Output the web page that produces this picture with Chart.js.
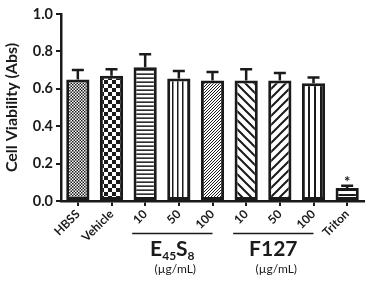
<!DOCTYPE html>
<html>
<head>
<meta charset="utf-8">
<script src="https://cdn.jsdelivr.net/npm/chart.js@4/dist/chart.umd.min.js"></script>
<style>
  html, body { margin: 0; padding: 0; background: #fff; }
  #wrap { width: 369px; height: 284px; position: relative; }
</style>
</head>
<body>
<div id="wrap"><canvas id="viabilityChart"></canvas></div>
<script>
// values
const categories = ['HBSS', 'Vehicle', '10', '50', '100', '10', '50', '100', 'Triton'];
const viability = [0.65, 0.67, 0.715, 0.655, 0.645, 0.645, 0.645, 0.63, 0.07];
const errUpper = [0.05, 0.035, 0.07, 0.04, 0.045, 0.06, 0.04, 0.03, 0.012];
const yTicks = [0.0, 0.2, 0.4, 0.6, 0.8, 1.0];

const ink = '#1a1a1a';
const font = 'Lato';

function makePattern(w, h, draw) {
    const c = document.createElement('canvas');
    c.width = w; c.height = h;
    const g = c.getContext('2d');
    g.fillStyle = '#fff';
    g.fillRect(0, 0, w, h);
    g.fillStyle = ink;
    g.strokeStyle = ink;
    draw(g, w, h);
    return g.createPattern(c, 'repeat');
}

function checker(size) {
    return makePattern(size * 2, size * 2, function (g) {
        g.fillRect(0, 0, size, size);
        g.fillRect(size, size, size, size);
    });
}

function hLines(gap, lw) {
    return makePattern(gap, gap, function (g, w) {
        g.lineWidth = lw;
        g.beginPath(); g.moveTo(0, gap / 2); g.lineTo(w, gap / 2); g.stroke();
    });
}

function vLines(gap, lw) {
    return makePattern(gap, gap, function (g, w, h) {
        g.lineWidth = lw;
        g.beginPath(); g.moveTo(gap / 2, 0); g.lineTo(gap / 2, h); g.stroke();
    });
}

function diag(gap, lw, forward) {
    return makePattern(gap, gap, function (g, s) {
        g.lineWidth = lw;
        g.beginPath();
        if (forward) {
            g.moveTo(0, s); g.lineTo(s, 0);
            g.moveTo(-1, 1); g.lineTo(1, -1);
            g.moveTo(s - 1, s + 1); g.lineTo(s + 1, s - 1);
        } else {
            g.moveTo(0, 0); g.lineTo(s, s);
            g.moveTo(-1, s - 1); g.lineTo(1, s + 1);
            g.moveTo(s - 1, -1); g.lineTo(s + 1, 1);
        }
        g.stroke();
    });
}

const fills = [
    checker(1.5),
    checker(4),
    hLines(4.3, 1.5),
    vLines(5.5, 1.5),
    diag(3, 1, true),
    diag(9, 2, false),
    diag(9, 2, true),
    vLines(6, 2),
    hLines(6, 2)
];

const errorBars = {
    id: 'errorBars',
    afterDatasetsDraw(chart) {
        const ctx = chart.ctx;
        const y = chart.scales.y;
        const meta = chart.getDatasetMeta(0);
        ctx.save();
        ctx.strokeStyle = ink;
        ctx.lineWidth = 2.5;
        meta.data.forEach(function (bar, i) {
            const top = y.getPixelForValue(viability[i]);
            const end = y.getPixelForValue(viability[i] + errUpper[i]);
            ctx.beginPath();
            ctx.moveTo(bar.x, top);
            ctx.lineTo(bar.x, end);
            ctx.moveTo(bar.x - 6, end);
            ctx.lineTo(bar.x + 6, end);
            ctx.stroke();
        });
        // significance mark on Triton
        const last = meta.data[meta.data.length - 1];
        const n = viability.length - 1;
        ctx.fillStyle = ink;
        ctx.font = 'bold 15px ' + font;
        ctx.textAlign = 'center';
        ctx.textBaseline = 'alphabetic';
        ctx.fillText('*', last.x, y.getPixelForValue(viability[n] + errUpper[n]) + 1);
        ctx.restore();
    }
};

const groupLabels = {
    id: 'groupLabels',
    afterDraw(chart) {
        const ctx = chart.ctx;
        const x = chart.scales.x;
        ctx.save();
        ctx.strokeStyle = ink;
        ctx.fillStyle = ink;
        ctx.lineWidth = 1.5;
        ctx.textBaseline = 'alphabetic';

        function group(first, lastIdx, drawTitle) {
            const l = x.getPixelForValue(first) - 13;
            const r = x.getPixelForValue(lastIdx);
            ctx.beginPath();
            ctx.moveTo(l, 233.5);
            ctx.lineTo(r, 233.5);
            ctx.stroke();
            const cx = (l + r) / 2;
            drawTitle(cx);
            ctx.font = '12px ' + font;
            ctx.textAlign = 'center';
            ctx.fillText('(\u00b5g/mL)', cx + 3, 273);
        }

        group(2, 4, function (cx) {
            const parts = [['E', 21, 0], ['45', 12, 4], ['S', 21, 0], ['8', 12, 4]];
            let total = 0;
            parts.forEach(function (p) {
                ctx.font = 'bold ' + p[1] + 'px ' + font;
                total += ctx.measureText(p[0]).width;
            });
            let px = cx - total / 2;
            ctx.textAlign = 'left';
            parts.forEach(function (p) {
                ctx.font = 'bold ' + p[1] + 'px ' + font;
                ctx.fillText(p[0], px, 256 + p[2]);
                px += ctx.measureText(p[0]).width;
            });
        });

        group(5, 7, function (cx) {
            ctx.font = 'bold 21px ' + font;
            ctx.textAlign = 'center';
            ctx.fillText('F127', cx, 256);
        });
        ctx.restore();
    }
};

new Chart(document.getElementById('viabilityChart'), {
    type: 'bar',
    data: {
        labels: categories,
        datasets: [{
            data: viability,
            backgroundColor: fills,
            borderColor: ink,
            borderWidth: 3,
            borderSkipped: false,
            categoryPercentage: 1,
            barPercentage: 0.69
        }]
    },
    options: {
        responsive: true,
        maintainAspectRatio: false,
        animation: false,
        layout: { padding: { top: 14, right: 5, left: 0, bottom: 0 } },
        plugins: {
            legend: { display: false },
            tooltip: { enabled: false }
        },
        scales: {
            y: {
                min: 0,
                max: 1,
                afterFit: function (s) { s.width = 61; },
                afterBuildTicks: function (s) { s.ticks = yTicks.map(v => ({ value: v })); },
                title: {
                    display: true,
                    text: 'Cell Viability (Abs)',
                    color: ink,
                    font: { family: font, size: 16, weight: 'bold' },
                    padding: { top: 2, bottom: 0 }
                },
                ticks: {
                    color: ink,
                    padding: 3,
                    font: { family: font, size: 14.5, weight: 'bold' },
                    callback: v => v.toFixed(1)
                },
                grid: {
                    drawOnChartArea: false,
                    color: ink,
                    lineWidth: 2,
                    tickLength: 5
                },
                border: { color: ink, width: 2.5 }
            },
            x: {
                afterFit: function (s) { s.height = 83; },
                ticks: {
                    color: ink,
                    minRotation: 45,
                    maxRotation: 45,
                    padding: 1,
                    font: { family: font, size: 12, weight: 'bold' }
                },
                grid: {
                    offset: false,
                    drawOnChartArea: false,
                    color: ink,
                    lineWidth: 2,
                    tickLength: 5
                },
                border: { color: ink, width: 2.5 }
            }
        }
    },
    plugins: [errorBars, groupLabels]
});
</script>
</body>
</html>
